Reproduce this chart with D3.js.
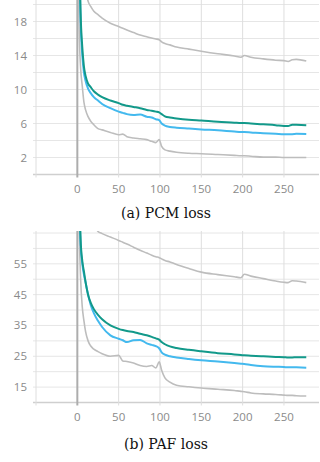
<!DOCTYPE html>
<html>
<head>
<meta charset="utf-8">
<script src="https://cdn.jsdelivr.net/npm/d3@7"></script>
<style>
  body { margin: 0; background: #fff; }
  svg { display: block; }
</style>
</head>
<body>
<div id="chart"></div>
<script>
const width = 320;
const height = 462;

// epochs shared by every series
const epochs = [1, 2, 4, 6, 8, 10, 13, 16, 20, 25, 30, 40, 50, 55, 60, 68, 76, 84, 90, 95, 99,
  102, 106, 112, 120, 135, 150, 170, 190, 198, 202, 210, 225, 240, 250, 255, 260, 265, 277];

// PCM loss
const pcmHigh = [60, 45, 32, 27, 24, 22, 20.4, 19.8, 19.2, 18.8, 18.4, 17.8, 17.4, 17.2, 17.0, 16.7, 16.4, 16.2, 16.05, 15.95, 15.85,
  15.6, 15.4, 15.25, 15.0, 14.75, 14.5, 14.2, 13.95, 13.8, 14.0, 13.8, 13.6, 13.45, 13.4, 13.3, 13.5, 13.55, 13.35];
const pcmTeal = [40, 30, 19, 15, 12.7, 11.6, 10.7, 10.3, 9.8, 9.4, 9.1, 8.7, 8.4, 8.2, 8.1, 7.95, 7.8, 7.6, 7.5, 7.4, 7.3,
  7.1, 6.85, 6.7, 6.6, 6.45, 6.35, 6.2, 6.1, 6.05, 6.05, 6.0, 5.9, 5.8, 5.7, 5.7, 5.85, 5.85, 5.8];
const pcmBlue = [38, 28, 18, 14, 12, 11, 10.1, 9.6, 9.1, 8.7, 8.3, 7.8, 7.4, 7.25, 7.1, 7.0, 7.05, 6.8, 6.7, 6.5, 6.4,
  6.0, 5.75, 5.6, 5.5, 5.4, 5.3, 5.2, 5.05, 5.0, 5.0, 4.95, 4.85, 4.8, 4.75, 4.75, 4.75, 4.78, 4.75];
const pcmLow = [25, 18, 12.5, 10.4, 8.5, 7.6, 6.8, 6.3, 5.85, 5.4, 5.25, 4.95, 4.67, 4.75, 4.45, 4.3, 4.2, 4.1, 3.9, 3.75, 4.1,
  3.3, 2.9, 2.75, 2.62, 2.5, 2.45, 2.35, 2.25, 2.2, 2.2, 2.15, 2.05, 2.05, 2.0, 2.0, 2.0, 2.0, 2.0];

// PAF loss
const pafHigh = [200, 150, 110, 95, 86, 80, 75, 71, 68, 65.5, 64.8, 63.7, 62.6, 62.0, 61.4, 60.4, 59.4, 58.5, 57.8, 57.3, 57.0,
  56.6, 56.1, 55.6, 54.8, 53.5, 52.3, 51.5, 50.8, 50.5, 51.6, 51.0, 50.2, 49.4, 49.0, 48.9, 49.5, 49.4, 48.9];
const pafTeal = [110, 85, 63, 56, 52.5, 49, 45, 42.5, 40.3, 38.4, 37, 35, 33.9, 33.5, 33.2, 32.9, 32.3, 31.8, 31.3, 30.8, 30.4,
  29.6, 28.9, 28.2, 27.7, 27.1, 26.6, 26.0, 25.6, 25.4, 25.3, 25.2, 25.0, 24.8, 24.7, 24.6, 24.6, 24.7, 24.7];
const pafBlue = [105, 82, 61, 55, 51.5, 49, 45, 41.8, 39, 36.5, 34.5, 31.8, 30.7, 30.2, 29.6, 30.2, 30.3, 29.2, 28.7, 28.3, 27.6,
  26.3, 25.5, 25.0, 24.6, 24.1, 23.7, 23.3, 22.8, 22.6, 22.5, 22.2, 21.8, 21.6, 21.5, 21.4, 21.4, 21.4, 21.3];
const pafLow = [90, 70, 50, 41, 36.5, 33, 30, 28.4, 27.3, 26.5, 25.8, 25.0, 25.3, 23.5, 23.3, 22.8, 22.0, 21.7, 22.0, 21.2, 23.2,
  20.5, 18.0, 16.6, 15.6, 15.1, 14.7, 14.3, 13.9, 13.6, 13.5, 13.1, 12.8, 12.6, 12.4, 12.3, 12.3, 12.2, 12.1];

const xTicks = [-50, 0, 50, 100, 150, 200, 250];
const xLabels = [0, 50, 100, 150, 200, 250];
const pcmGrid = d3.range(0, 21, 2);
const pcmLabels = [2, 6, 10, 14, 18];
const pafGrid = d3.range(10, 66, 5);
const pafLabels = [15, 25, 35, 45, 55];

const colors = { high: "#bdbdbd", teal: "#12998a", blue: "#43b9ee", low: "#bdbdbd" };

const svg = d3.select("#chart").append("svg")
  .attr("width", width)
  .attr("height", height);

const x = d3.scaleLinear().domain([-50, 292.4]).range([36, 319]);

function panel(id, top, bottom, yDomain, grid, labels, series, caption, captionY) {
  const y = d3.scaleLinear().domain(yDomain).range([bottom, yDomain[0] === 0 ? 4.5 : 233]);
  const g = svg.append("g");

  g.append("clipPath").attr("id", id)
    .append("rect")
    .attr("x", 36).attr("y", top)
    .attr("width", 283).attr("height", bottom - top);

  // horizontal grid + little left ticks
  g.append("g").selectAll("line")
    .data(grid)
    .join("line")
    .attr("x1", 33).attr("x2", 319)
    .attr("y1", d => y(d)).attr("y2", d => y(d))
    .attr("stroke", d => d === yDomain[0] ? "#cfcfcf" : "#e6e6e6")
    .attr("stroke-width", d => d === yDomain[0] ? 1.5 : 1);

  // vertical grid
  g.append("g").selectAll("line")
    .data(xTicks)
    .join("line")
    .attr("x1", d => x(d)).attr("x2", d => x(d))
    .attr("y1", top).attr("y2", bottom + 3)
    .attr("stroke", d => d === 0 ? "#adadad" : "#dedede")
    .attr("stroke-width", d => d === 0 ? 2 : 1);

  // y labels
  g.append("g").selectAll("text")
    .data(labels)
    .join("text")
    .attr("x", 27)
    .attr("y", d => y(d))
    .attr("dy", "0.35em")
    .attr("text-anchor", "end")
    .attr("font-family", "Open Sans, sans-serif")
    .attr("font-size", 11.5)
    .attr("fill", "#8a8a8a")
    .text(d => d);

  // x labels
  g.append("g").selectAll("text")
    .data(xLabels)
    .join("text")
    .attr("x", d => x(d))
    .attr("y", bottom + 18.5)
    .attr("text-anchor", "middle")
    .attr("font-family", "Open Sans, sans-serif")
    .attr("font-size", 11.5)
    .attr("fill", "#8a8a8a")
    .text(d => d);

  const line = d3.line()
    .x((d, i) => x(epochs[i]))
    .y(d => y(d))
    .curve(d3.curveMonotoneX);

  g.append("g")
    .attr("clip-path", `url(#${id})`)
    .selectAll("path")
    .data(series)
    .join("path")
    .attr("d", d => line(d.values))
    .attr("fill", "none")
    .attr("stroke", d => d.color)
    .attr("stroke-width", d => d.w)
    .attr("stroke-linejoin", "round");

  svg.append("text")
    .attr("x", 166)
    .attr("y", captionY)
    .attr("text-anchor", "middle")
    .attr("font-family", "DejaVu Serif, serif")
    .attr("font-size", 14)
    .attr("fill", "#111")
    .text(caption);
}

panel("clipA", 0, 174.5, [0, 20], pcmGrid, pcmLabels, [
  { values: pcmHigh, color: colors.high, w: 1.6 },
  { values: pcmLow, color: colors.low, w: 1.6 },
  { values: pcmBlue, color: colors.blue, w: 2 },
  { values: pcmTeal, color: colors.teal, w: 2 }
], "(a) PCM loss", 218);

panel("clipB", 231, 402.5, [10, 65], pafGrid, pafLabels, [
  { values: pafHigh, color: colors.high, w: 1.6 },
  { values: pafLow, color: colors.low, w: 1.6 },
  { values: pafBlue, color: colors.blue, w: 2 },
  { values: pafTeal, color: colors.teal, w: 2 }
], "(b) PAF loss", 449);
</script>
</body>
</html>
